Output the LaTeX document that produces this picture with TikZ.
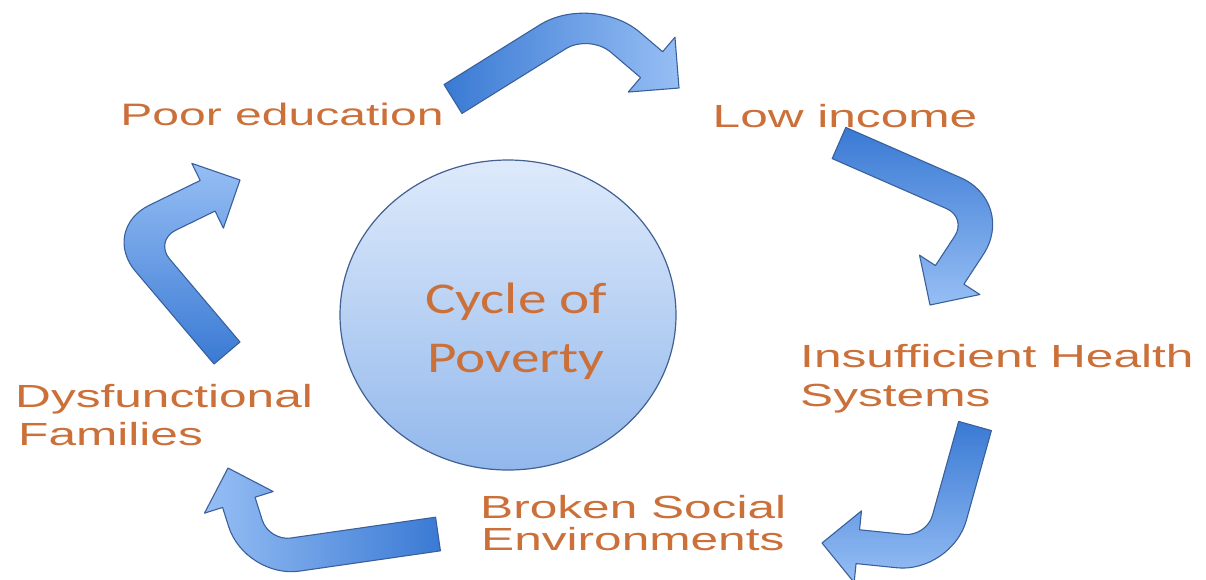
\documentclass[tikz,border=0pt]{standalone}
\usepackage{fontspec}
\setmainfont{Liberation Sans}
\newfontfamily\lblfont[FakeStretch=1.55]{Liberation Sans}
\newfontfamily\cycfont[FakeStretch=1.3]{Carlito}
\usetikzlibrary{calc,shapes.geometric}
\definecolor{txt}{RGB}{204,112,58}
\definecolor{arrdark}{RGB}{58,122,212}
\definecolor{arrlight}{RGB}{150,190,244}
\definecolor{arredge}{RGB}{58,96,156}
\definecolor{elltop}{RGB}{222,234,251}
\definecolor{ellbot}{RGB}{146,184,236}
\definecolor{elledge}{RGB}{66,96,146}
\tikzset{
  lbl/.style={font=\lblfont\fontsize{32}{38}\selectfont, text=txt, inner sep=0pt, anchor=base west},
  lblc/.style={lbl, anchor=base},
  cyctext/.style={font=\cycfont\fontsize{44}{50}\selectfont, text=txt, inner sep=0pt, anchor=base},
  arrowbody/.style={draw=arredge, line width=1.1pt, line join=round},
}
% #1 prefix, #2 tail, #3 corner, #4 tip, #5 shading, #6 inner cut, #7 outer cut
\newcommand\blockarrow[7]{%
  \coordinate (#1t) at (#2);
  \coordinate (#1c) at (#3);
  \coordinate (#1p) at (#4);
  \coordinate (#1b) at ($(#1p)!36pt!(#1c)$);
  \coordinate (#1lz) at ($(#1t)!17pt!90:(#1c)$);
  \coordinate (#1rz) at ($(#1t)!17pt!-90:(#1c)$);
  \coordinate (#1la) at ($(#1c)!17pt!-90:(#1t)$);
  \coordinate (#1ra) at ($(#1c)!17pt!90:(#1t)$);
  \coordinate (#1lb) at ($(#1c)!17pt!90:(#1b)$);
  \coordinate (#1rb) at ($(#1c)!17pt!-90:(#1b)$);
  \coordinate (#1le) at ($(#1b)!17pt!-90:(#1c)$);
  \coordinate (#1re) at ($(#1b)!17pt!90:(#1c)$);
  \coordinate (#1hl) at ($(#1b)!36pt!-90:(#1c)$);
  \coordinate (#1hr) at ($(#1b)!36pt!90:(#1c)$);
  \coordinate (#1lc) at (intersection of #1lz--#1la and #1lb--#1le);
  \coordinate (#1rc) at (intersection of #1rz--#1ra and #1rb--#1re);
  \coordinate (#1lp) at ($(#1lc)!#7pt!(#1lz)$);
  \coordinate (#1lq) at ($(#1lc)!#7pt!(#1le)$);
  \coordinate (#1rp) at ($(#1rc)!#6pt!(#1re)$);
  \coordinate (#1rq) at ($(#1rc)!#6pt!(#1rz)$);
  \path[arrowbody, #5] (#1lz) -- (#1lp)
    .. controls ($(#1lp)!0.55!(#1lc)$) and ($(#1lq)!0.55!(#1lc)$) .. (#1lq)
    -- (#1le) -- (#1hl) -- (#1p) -- (#1hr) -- (#1re) -- (#1rp)
    .. controls ($(#1rp)!0.55!(#1rc)$) and ($(#1rq)!0.55!(#1rc)$) .. (#1rq)
    -- (#1rz) -- cycle;
}
\begin{document}
\begin{tikzpicture}[x=1pt,y=-1pt]
\fill[white] (0,0) rectangle (1206,579);
\useasboundingbox (0,0) rectangle (1206,579);
% central ellipse
\node[ellipse, draw=elledge, line width=1.2pt, minimum width=336pt, minimum height=310pt,
  inner sep=0pt, top color=elltop, bottom color=ellbot] (core) at (508,315) {};
\node[cyctext] (cyc1) at (516,313) {Cycle of};
\node[cyctext] (cyc2) at (516,372) {Poverty};
% labels
\node[lblc, font=\lblfont\fontsize{31}{38}\selectfont] (poor) at (282,125) {Poor education};
\node[lblc] (low) at (845,127) {Low income};
\node[lbl] (ins1) at (800,367) {Insufficient Health};
\node[lbl] (ins2) at (800,406) {Systems};
\node[lbl] (bro1) at (480,518) {Broken Social};
\node[lbl] (bro2) at (481,550) {Environments};
\node[lbl] (dys1) at (15,407) {Dysfunctional};
\node[lbl] (dys2) at (18,445) {Families};
% arrows
\blockarrow{aa}{453,99}{591,13}{679,88}{left color=arrdark, right color=arrlight}{28}{62}
\blockarrow{ab}{839,143}{992,210}{930,305}{top color=arrdark, bottom color=arrlight}{22}{62}
\blockarrow{ac}{975,426}{939,555}{822,543}{top color=arrdark, bottom color=arrlight}{22}{55}
\blockarrow{ad}{438,534}{257,560}{228,468}{right color=arrdark, left color=arrlight}{22}{55}
\blockarrow{ae}{227,353}{127,235}{240,180}{bottom color=arrdark, top color=arrlight}{24}{55}
\end{tikzpicture}
\end{document}
